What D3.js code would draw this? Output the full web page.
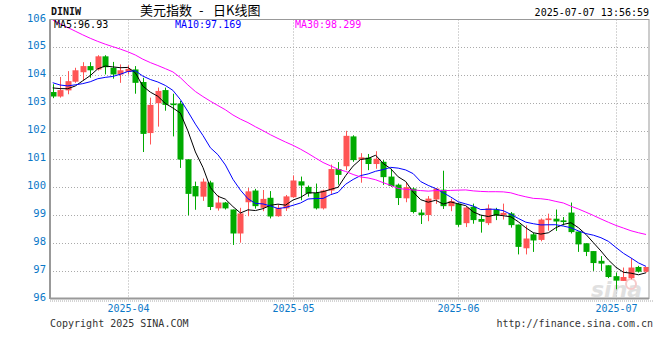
<!DOCTYPE html>
<html><head><meta charset="utf-8">
<script src="https://cdn.jsdelivr.net/npm/d3@7"></script>
<style>body{margin:0;background:#fff}svg{display:block}</style>
</head><body><svg id="c" width="660" height="360"></svg>
<script>
// ---- data ----
const tradingDays = {
  "2025-03": [18,19,20,21,24,25,26,27,28,31],
  "2025-04": [1,2,3,4,7,8,9,10,11,14,15,16,17,18,21,22,23,24,25,28,29,30],
  "2025-05": [1,2,5,6,7,8,9,12,13,14,15,16,19,20,21,22,23,26,27,28,29,30],
  "2025-06": [2,3,4,5,6,9,10,11,12,13,16,17,18,19,20,23,24,25,26,27,30],
  "2025-07": [1,2,3,4,7]
};
const open  = [103.40,103.24,103.46,103.77,104.11,104.33,104.21,104.68,104.27,104.03,
               104.12,104.21,103.76,101.93,103.00,103.47,102.99,102.99,100.99,100.03,
               99.65,100.16,99.23,99.44,99.19,98.33,99.45,99.87,99.25,99.61,
               98.95,99.23,99.63,100.20,100.00,99.79,99.23,99.87,100.64,100.74,
               101.81,100.98,101.05,100.82,100.90,100.37,100.08,99.59,99.94,99.08,
               98.99,99.55,99.90,99.31,99.40,98.70,99.29,98.85,98.70,99.19,
               98.99,99.05,98.65,97.80,98.30,98.10,98.81,98.86,98.80,99.08,
               98.40,97.98,97.70,97.35,97.19,96.80,96.63,96.73,97.13,96.96];
const high  = [103.68,103.94,104.15,104.27,104.47,104.47,104.72,104.72,104.48,104.39,
               104.36,104.33,103.91,103.20,103.56,103.56,103.34,103.08,100.99,100.19,
               100.30,100.22,99.70,99.46,99.19,99.25,99.96,99.93,99.89,99.85,
               99.36,99.71,100.41,100.37,100.05,100.12,99.90,100.80,100.89,102.01,
               101.85,101.21,101.18,101.28,100.96,100.65,100.12,100.14,99.98,99.19,
               99.67,99.96,100.58,99.58,99.43,99.29,99.40,98.99,99.37,99.25,
               99.40,99.10,98.65,98.62,98.36,98.87,99.04,99.19,98.92,99.44,
               98.40,97.98,97.70,97.52,97.19,96.93,97.11,97.44,97.17,97.13];
const low   = [103.18,103.20,103.32,103.73,103.82,103.91,104.17,104.03,103.88,103.73,
               104.03,103.34,101.25,101.52,102.16,102.73,101.81,100.68,98.98,99.18,
               99.50,99.17,99.15,99.19,97.92,98.00,98.95,99.22,99.13,98.87,
               98.93,99.14,99.61,99.52,99.65,99.19,99.19,99.75,100.08,100.60,
               100.90,100.15,100.60,100.65,100.07,100.00,99.35,99.45,99.05,98.67,
               98.77,99.39,99.21,99.13,98.57,98.56,98.68,98.36,98.63,98.81,
               98.83,98.54,97.58,97.58,97.67,98.05,98.43,98.42,98.62,98.33,
               97.67,97.52,96.99,96.99,96.73,96.33,96.63,96.69,96.93,96.93];
const close = [103.24,103.47,103.79,104.18,104.33,104.18,104.68,104.29,104.03,104.18,
               104.23,103.73,101.90,102.94,103.44,102.94,102.93,100.98,99.75,99.66,
               100.19,99.28,99.44,99.23,98.33,99.05,99.84,99.31,99.57,98.94,
               99.25,99.66,100.23,100.05,99.76,99.23,99.87,100.64,100.43,101.83,
               100.96,101.06,100.82,101.01,100.35,100.03,99.60,99.99,99.10,98.99,
               99.58,99.94,99.31,99.49,98.64,99.26,98.81,98.75,99.23,98.97,
               99.07,98.63,97.85,98.15,98.08,98.83,98.87,98.76,98.74,98.38,
               97.94,97.67,97.27,97.25,96.77,96.64,96.77,97.11,96.96,97.13];
// closes of the 29 sessions before the first candle, estimated from the left ends of the MA lines
const priorCloses = [107.6,107.7,108.1,108.3,107.9,108.0,107.3,106.7,106.8,107.1,
                     107.2,106.4,106.6,106.6,106.3,106.4,107.2,107.6,106.7,105.6,
                     104.3,104.1,103.8,103.9,103.5,103.6,103.8,103.7,103.4];
const yTicks = [96,97,98,99,100,101,102,103,104,105,106];
const monthTicks = ["2025-04","2025-05","2025-06","2025-07"];
const maPeriods = [5,10,30];
const maColors = ["#000000","#0000ff","#ff00ff"];
const maLegendValues = ["96.93","97.169","98.299"];
const headerTime = "2025-07-07 13:56:59";

// ---- build ----
const dates = [];
Object.keys(tradingDays).forEach(m => tradingDays[m].forEach(d => dates.push(m + "-" + String(d).padStart(2,"0"))));
const all = priorCloses.concat(close);
const off = priorCloses.length;
const ma = maPeriods.map(n => close.map((c,i) => d3.mean(all.slice(i+off-n+1, i+off+1))));

const svg = d3.select("#c");
const L = 50, R = 649, T = 19.5, B = 298.5;
const x = d3.scalePoint().domain(dates).range([52.7, 646]);
const y = d3.scaleLinear().domain([96,106]).range([B, T]);
const mono = "'DejaVu Sans Mono', monospace";
const cjk = "'Noto Sans CJK SC', sans-serif";
const blue = "#0b78c8";

svg.append("defs").append("clipPath").attr("id","pc").append("rect")
  .attr("x",L).attr("y",T).attr("width",R-L).attr("height",B-T);

// horizontal grid
svg.append("g").selectAll("line").data(yTicks.filter(v => v>96 && v<106)).join("line")
  .attr("x1",L).attr("x2",R).attr("y1",d=>Math.round(y(d))+0.5).attr("y2",d=>Math.round(y(d))+0.5)
  .attr("stroke","#aaa").attr("stroke-dasharray","1,2");
// vertical grid at first trading day of each month
const monthX = monthTicks.map(m => Math.round(x(dates.find(d => d.startsWith(m))))+0.5);
svg.append("g").selectAll("line").data(monthX).join("line")
  .attr("x1",d=>d).attr("x2",d=>d).attr("y1",T).attr("y2",B+2)
  .attr("stroke","#aaa").attr("stroke-dasharray","1,2");
// dotted line under axis
svg.append("line").attr("x1",L).attr("x2",653).attr("y1",B+2.5).attr("y2",B+2.5)
  .attr("stroke","#aaa").attr("stroke-dasharray","1,1");

// watermark
const wm = svg.append("g").attr("opacity",0.55);
wm.append("text").attr("x",591).attr("y",297).attr("font-family","'DejaVu Sans', sans-serif")
  .attr("font-size",22).attr("font-weight","bold").attr("font-style","italic").attr("fill","#c8c8c8").text("sina");
wm.append("circle").attr("cx",631).attr("cy",284).attr("r",5).attr("fill","none").attr("stroke","#f0a0a0").attr("stroke-width",2);

// candles
const g = svg.append("g").attr("clip-path","url(#pc)");
const idx = d3.range(dates.length);
const col = i => close[i] >= open[i] ? "#ff5555" : "#00aa00";
g.selectAll("line.w").data(idx).join("line").attr("class","w")
  .attr("x1",i=>Math.round(x(dates[i]))+0.5).attr("x2",i=>Math.round(x(dates[i]))+0.5)
  .attr("y1",i=>y(high[i])).attr("y2",i=>y(low[i])).attr("stroke",col);
g.selectAll("rect").data(idx).join("rect")
  .attr("x",i=>Math.round(x(dates[i]))-2.5).attr("width",6)
  .attr("y",i=>y(Math.max(open[i],close[i])))
  .attr("height",i=>Math.max(1, Math.abs(y(open[i])-y(close[i]))))
  .attr("fill",col);

// MA lines
const line = d3.line().x((d,i)=>x(dates[i])).y(d=>y(d));
ma.forEach((s,k) => g.append("path").attr("d",line(s)).attr("fill","none")
  .attr("stroke",maColors[k]).attr("stroke-width",1));

// frame
svg.append("rect").attr("x",L).attr("y",T).attr("width",R-L).attr("height",B-T)
  .attr("fill","none").attr("stroke","#999").attr("stroke-width",1);
svg.append("line").attr("x1",L).attr("x2",L).attr("y1",T).attr("y2",B+0.5).attr("stroke","#999").attr("stroke-width",2);
svg.append("line").attr("x1",L).attr("x2",R).attr("y1",B).attr("y2",B).attr("stroke","#999").attr("stroke-width",2);

// y labels
svg.append("g").selectAll("text").data(yTicks).join("text")
  .attr("x",46).attr("y",d=>y(d)+2).attr("text-anchor","end")
  .attr("font-family",mono).attr("font-size",10.5).attr("fill",blue).text(d=>d);
// month labels
svg.append("g").selectAll("text").data(monthTicks).join("text")
  .attr("x",(d,i)=>monthX[i]).attr("y",312).attr("text-anchor","middle")
  .attr("font-family",mono).attr("font-size",10).attr("fill",blue).text(d=>d);

// header
svg.append("text").attr("x",51).attr("y",15).attr("font-family",mono).attr("font-size",10)
  .attr("font-weight","bold").attr("fill","#111").text("DINIW");
const title = svg.append("text").attr("y",15).attr("font-family",cjk).attr("font-size",13).attr("fill","#000");
title.append("tspan").attr("x",140).text("美元指数");
title.append("tspan").attr("x",199).text("-");
title.append("tspan").attr("x",213).text("日K线图");
svg.append("text").attr("x",649).attr("y",15.5).attr("text-anchor","end").attr("font-family",mono)
  .attr("font-size",10).attr("fill","#000").text(headerTime);
const legX = [54,175,295];
maPeriods.forEach((n,k) => {
  svg.append("text").attr("x",legX[k]).attr("y",27.5).attr("font-family",mono).attr("font-size",10)
    .attr("fill",maColors[k]).text("MA"+n+":"+maLegendValues[k]);
});

// footer
svg.append("text").attr("x",50).attr("y",327).attr("font-family",mono).attr("font-size",10)
  .attr("fill","#333").text("Copyright 2025 SINA.COM");
svg.append("text").attr("x",653).attr("y",327).attr("text-anchor","end").attr("font-family",mono)
  .attr("font-size",10).attr("fill","#333").text("http://finance.sina.com.cn");
</script>
</body></html>
